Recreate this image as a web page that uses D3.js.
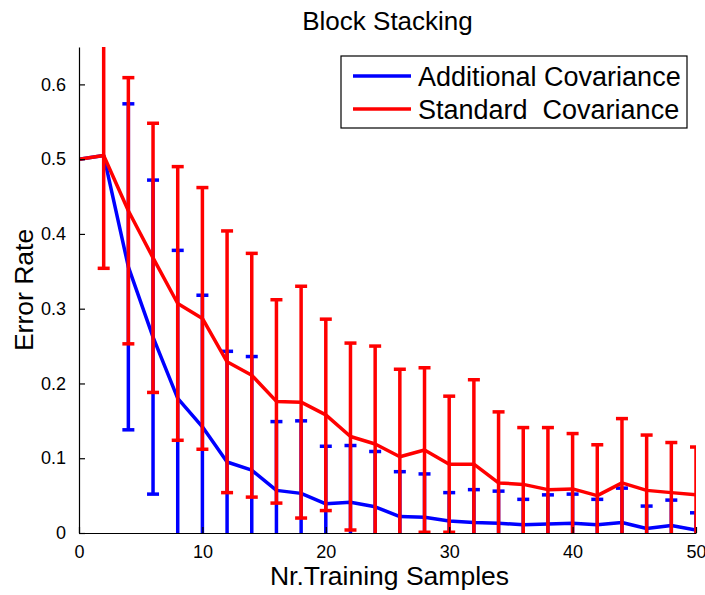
<!DOCTYPE html>
<meta charset="utf-8">
<style>
body { margin: 0; background: #fff; }
text { font-family: "Liberation Sans", Arial, sans-serif; fill: #000; }
.tick text { font-size: 18px; }
.axis path, .axis line { stroke: #000; stroke-width: 1.2; fill: none; }
</style>
<body>
<div id="chart"></div>
<script src="https://d3js.org/d3.v7.min.js"></script>
<script>

// data
var samples = [0, 2, 4, 6, 8, 10, 12, 14, 16, 18, 20, 22, 24, 26, 28, 30, 32, 34, 36, 38, 40, 42, 44, 46, 48, 50];

var addMean = [0.500, 0.505, 0.356, 0.262, 0.180, 0.142, 0.095, 0.084, 0.057, 0.053, 0.039, 0.041, 0.035,
               0.022, 0.021, 0.016, 0.014, 0.013, 0.011, 0.012, 0.013, 0.011, 0.014, 0.006, 0.010, 0.004];
var addStd  = [0.000, 0.000, 0.218, 0.210, 0.198, 0.176, 0.148, 0.152, 0.092, 0.097, 0.077, 0.076, 0.074,
               0.060, 0.058, 0.038, 0.044, 0.043, 0.034, 0.039, 0.039, 0.034, 0.046, 0.030, 0.034, 0.023];

var stdMean = [0.500, 0.505, 0.431, 0.368, 0.307, 0.287, 0.229, 0.211, 0.176, 0.175, 0.158, 0.129, 0.119,
               0.102, 0.111, 0.092, 0.092, 0.067, 0.065, 0.058, 0.059, 0.050, 0.067, 0.057, 0.054, 0.051];
var stdStd  = [0.000, 0.151, 0.178, 0.180, 0.183, 0.175, 0.175, 0.163, 0.136, 0.155, 0.128, 0.125, 0.131,
               0.117, 0.110, 0.091, 0.113, 0.095, 0.076, 0.083, 0.074, 0.068, 0.086, 0.074, 0.067, 0.064];

var xTicks = [0, 10, 20, 30, 40, 50];
var yTicks = [0, 0.1, 0.2, 0.3, 0.4, 0.5, 0.6];

var seriesNames = ["Additional Covariance", "Standard  Covariance"];
var seriesColors = ["#0000ff", "#ff0000"];

// set the dimensions and margins of the graph
var chartw = 705, charth = 595;
var margin = {top: 47, right: 9, bottom: 62, left: 79},
    width = chartw - margin.left - margin.right,
    height = charth - margin.top - margin.bottom;

var x = d3.scaleLinear().domain([0, 50]).range([0, width]);
var y = d3.scaleLinear().domain([0, 0.65]).range([height, 0]);

var svg = d3.select("#chart").append("svg")
    .attr("width", chartw)
    .attr("height", charth)
  .append("g")
    .attr("transform", "translate(" + margin.left + "," + margin.top + ")");

svg.append("clipPath").attr("id", "clip")
  .append("rect").attr("width", width).attr("height", height);

var plot = svg.append("g").attr("clip-path", "url(#clip)");

var series = [
  {name: seriesNames[0], color: seriesColors[0], mean: addMean, std: addStd},
  {name: seriesNames[1], color: seriesColors[1], mean: stdMean, std: stdStd}
];

var capw = 6;
var line = d3.line()
    .x(function(d) { return x(d.x); })
    .y(function(d) { return y(d.m); });

series.forEach(function(s) {
  var pts = samples.map(function(v, i) { return {x: v, m: s.mean[i], e: s.std[i]}; });
  var g = plot.append("g");
  var bars = pts.filter(function(d) { return d.e > 0; });

  // vertical error bars
  g.selectAll("line.err").data(bars).enter().append("line")
      .attr("x1", function(d) { return x(d.x); })
      .attr("x2", function(d) { return x(d.x); })
      .attr("y1", function(d) { return y(d.m - d.e); })
      .attr("y2", function(d) { return y(d.m + d.e); })
      .attr("stroke", s.color).attr("stroke-width", 3.5);

  // caps
  [-1, 1].forEach(function(sign) {
    g.selectAll(null).data(bars).enter().append("line")
        .attr("x1", function(d) { return x(d.x) - capw; })
        .attr("x2", function(d) { return x(d.x) + capw; })
        .attr("y1", function(d) { return y(d.m + sign * d.e); })
        .attr("y2", function(d) { return y(d.m + sign * d.e); })
        .attr("stroke", s.color).attr("stroke-width", 3.5);
  });

  // mean line
  g.append("path").datum(pts)
      .attr("d", line)
      .attr("fill", "none")
      .attr("stroke", s.color)
      .attr("stroke-width", 3.5)
      .attr("stroke-linejoin", "round");
});

// axes, ticks inside like matlab
svg.append("g")
    .attr("class", "axis")
    .attr("transform", "translate(0," + height + ")")
    .call(d3.axisBottom(x).tickValues(xTicks).tickSizeInner(-6).tickSizeOuter(0).tickPadding(12)
          .tickFormat(d3.format("d")));

svg.append("g")
    .attr("class", "axis")
    .call(d3.axisLeft(y).tickValues(yTicks).tickSizeInner(-6).tickSizeOuter(0).tickPadding(13)
          .tickFormat(function(d) { return d === 0 ? "0" : d3.format(".1f")(d); }));

svg.selectAll(".axis").attr("font-family", null).attr("font-size", null);

// title and labels
svg.append("text")
    .attr("x", width / 2).attr("y", 30 - margin.top)
    .attr("text-anchor", "middle")
    .style("font-size", "26px")
    .text("Block Stacking");

svg.append("text")
    .attr("x", width / 2 + 2).attr("y", 585 - margin.top)
    .attr("text-anchor", "middle")
    .style("font-size", "26.5px")
    .text("Nr.Training Samples");

svg.append("text")
    .attr("transform", "translate(" + (33 - margin.left) + "," + (height / 2) + ") rotate(-90)")
    .attr("text-anchor", "middle")
    .style("font-size", "26.5px")
    .text("Error Rate");

// legend
var legend = svg.append("g")
    .attr("transform", "translate(" + (341 - margin.left) + "," + (56 - margin.top) + ")");

legend.append("rect")
    .attr("width", 346).attr("height", 72)
    .attr("fill", "#fff").attr("stroke", "#000").attr("stroke-width", 1.2);

series.forEach(function(s, i) {
  var ly = 20 + i * 33;
  legend.append("line")
      .attr("x1", 12).attr("x2", 70)
      .attr("y1", ly).attr("y2", ly)
      .attr("stroke", s.color).attr("stroke-width", 3.5);
  legend.append("text")
      .attr("x", 77).attr("y", ly + 10)
      .style("font-size", "27px")
      .style("white-space", "pre")
      .text(s.name);
});

</script>
</body>
